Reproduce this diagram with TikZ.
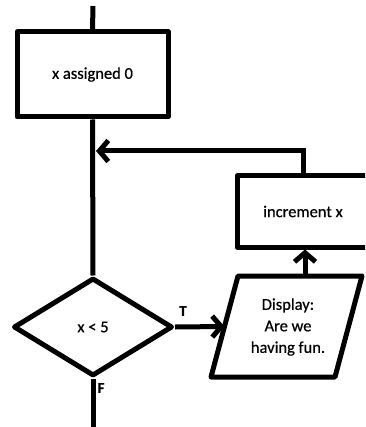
\documentclass[tikz,border=0pt]{standalone}
\usepackage{fontspec}
\setmainfont{Carlito}[FakeBold=0.6]
\newfontfamily\lblfont{Carlito}[FakeBold=0.4]
\usetikzlibrary{shapes.geometric,arrows.meta,calc}
\begin{document}
\begin{tikzpicture}[x=1pt,y=-1pt,
  every node/.style={font=\fontsize{16.5}{21.5}\selectfont, align=center, inner sep=0pt},
  flow/.style={line width=5pt},
  shapebox/.style={draw, line width=5pt, line join=round},
  arr/.style={flow, -{Straight Barb[length=9pt,width=21pt,line width=5pt]}},
  lbl/.style={font=\fontsize{15}{17}\selectfont\bfseries}]
\useasboundingbox (0,0) rectangle (365,427);
\clip (0,0) rectangle (365,427);
\node[shapebox, minimum width=151pt, minimum height=85pt] (init) at (92.5,74.5) {x assigned 0};
\node[shapebox, minimum width=132pt, minimum height=71pt] (inc) at (303,211.5) {increment x};
\node[shapebox, diamond, minimum width=159pt, minimum height=98pt] (cond) at (93,327) {x < 5};
% parallelogram (input/output)
\coordinate (p1) at (238,276);
\coordinate (p2) at (362,276);
\coordinate (p3) at (335,377);
\coordinate (p4) at (211,377);
\draw[shapebox] (p1) -- (p2) -- (p3) -- (p4) -- cycle;
\node (disp) at (288,327) {Display:\\Are we\\having fun.};
\coordinate (dispW) at ($(p1)!0.5!(p4)$);
\coordinate (dispN) at (305,276);
\coordinate (top) at (93,6);
\coordinate (bot) at (93,430);
\coordinate (join) at (96,151);
\draw[flow] (top) -- (init.north);
\draw[flow] (init.south) -- (cond.north);
\draw[flow] (cond.south) -- (bot);
\draw[arr] (inc.north) |- (join);
\draw[arr] (cond.east) -- (dispW);
\draw[arr] (dispN) -- (dispN |- inc.south);
\node[lbl] (t) at (183,311) {T};
\node[lbl] (f) at (101,388) {F};
\end{tikzpicture}
\end{document}
